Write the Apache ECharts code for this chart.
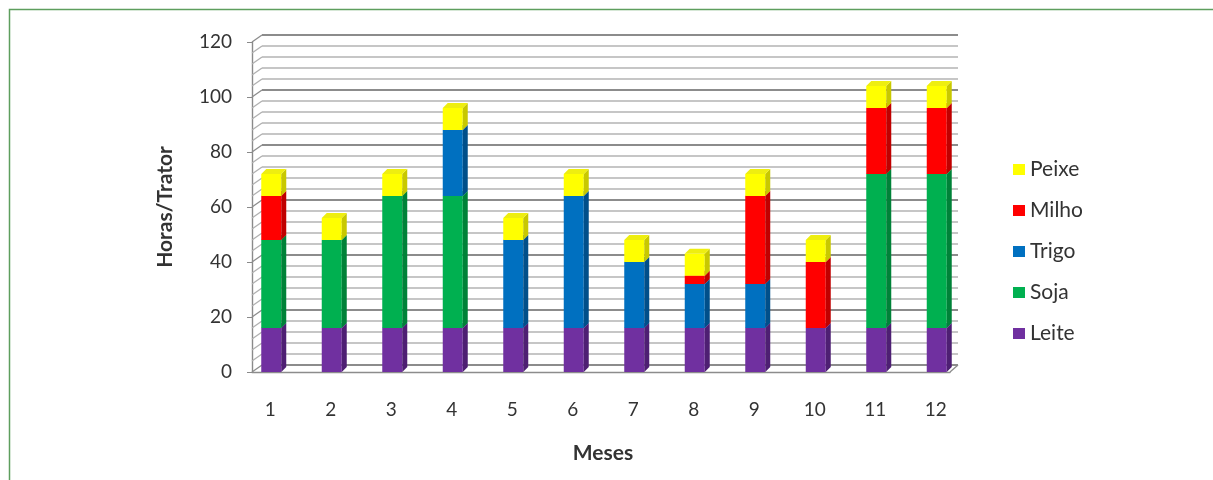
<!DOCTYPE html>
<html>
<head>
<meta charset="utf-8">
<script src="https://cdn.jsdelivr.net/npm/echarts@6/dist/echarts.min.js"></script>
<style>
  html, body { margin: 0; padding: 0; background: #fff; }
  #chart { width: 1213px; height: 480px; }
</style>
</head>
<body>
<div id="chart"></div>
<script>
// Monthly tractor hours, stacked by activity
const months = ['1', '2', '3', '4', '5', '6', '7', '8', '9', '10', '11', '12'];
const leite = [16, 16, 16, 16, 16, 16, 16, 16, 16, 16, 16, 16];
const soja  = [32, 32, 48, 48, 0, 0, 0, 0, 0, 0, 56, 56];
const trigo = [0, 0, 0, 24, 32, 48, 24, 16, 16, 0, 0, 0];
const milho = [16, 0, 0, 0, 0, 0, 0, 3, 32, 24, 24, 24];
const peixe = [8, 8, 8, 8, 8, 8, 8, 8, 8, 8, 8, 8];
const yTickLabels = ['0', '20', '40', '60', '80', '100', '120'];
const legendOrder = ['Peixe', 'Milho', 'Trigo', 'Soja', 'Leite'];

const FONT = 'Lato, "Open Sans", sans-serif';
const TEXT = '#333333';
const DEPTH_X = 10, DEPTH_Y = -7;   // offset of the back wall
const BAR_W = 20, BAR_DX = 5, BAR_DY = -5;

// stacking order, bottom to top
const layers = [
  { name: 'Leite', values: leite, front: '#7030a0', side: '#4e1f73', top: '#7f3fb0' },
  { name: 'Soja',  values: soja,  front: '#00b050', side: '#008238', top: '#12c060' },
  { name: 'Trigo', values: trigo, front: '#0070c0', side: '#004f8a', top: '#1a80cc' },
  { name: 'Milho', values: milho, front: '#ff0000', side: '#c00000', top: '#ff2a2a' },
  { name: 'Peixe', values: peixe, front: '#ffff00', side: '#c8c800', top: '#eeee10' }
];

// running base for each month
const running = months.map(() => 0);
const barSeries = layers.map(layer => {
  const data = layer.values.map((v, i) => {
    const base = running[i];
    running[i] += v;
    return [i, base, base + v];
  });
  return {
    name: layer.name,
    type: 'custom',
    xAxisIndex: 0,
    yAxisIndex: 0,
    itemStyle: { color: layer.front },
    encode: { x: 0, y: [1, 2] },
    data: data,
    renderItem: function (params, api) {
      const base = api.value(1), topV = api.value(2);
      if (topV <= base) return null;
      const p0 = api.coord([api.value(0), base]);
      const p1 = api.coord([api.value(0), topV]);
      const l = p0[0] - BAR_W / 2 + 1, r = l + BAR_W;
      const yb = p0[1], yt = p1[1];
      return {
        type: 'group',
        children: [
          { type: 'rect', shape: { x: l, y: yt, width: BAR_W, height: yb - yt },
            style: { fill: layer.front } },
          { type: 'polygon',
            shape: { points: [[r, yb], [r + BAR_DX, yb + BAR_DY], [r + BAR_DX, yt + BAR_DY], [r, yt]] },
            style: { fill: layer.side } },
          { type: 'polygon',
            shape: { points: [[l, yt], [l + BAR_DX, yt + BAR_DY], [r + BAR_DX, yt + BAR_DY], [r, yt]] },
            style: { fill: layer.top } }
        ]
      };
    }
  };
});

// side-wall connectors between the front axis and the back wall
const wallTicks = [];
for (let v = 0; v <= 120; v += 4) wallTicks.push(v);
const wallSeries = {
  type: 'custom',
  xAxisIndex: 1,
  yAxisIndex: 1,
  silent: true,
  z: 1,
  data: wallTicks.map(v => [0, v]),
  encode: { y: 1 },
  renderItem: function (params, api) {
    const cs = params.coordSys;
    const v = api.value(1);
    const y = api.coord([0, v])[1];
    const color = v % 20 === 0 ? '#8c8c8c' : '#b0b0b0';
    const children = [{
      type: 'line',
      shape: { x1: cs.x, y1: y, x2: cs.x + DEPTH_X, y2: y + DEPTH_Y },
      style: { stroke: color, lineWidth: 1.3 }
    }];
    if (v === 0) {
      children.push({
        type: 'line',
        shape: { x1: cs.x + cs.width, y1: y, x2: cs.x + cs.width + DEPTH_X - 2, y2: y + DEPTH_Y },
        style: { stroke: '#8c8c8c', lineWidth: 1.3 }
      });
    }
    return { type: 'group', children: children };
  }
};

const chart = echarts.init(document.getElementById('chart'), null, { renderer: 'canvas' });
chart.setOption({
  animation: false,
  backgroundColor: '#ffffff',
  textStyle: { fontFamily: FONT },
  graphic: [{
    type: 'rect',
    shape: { x: 9.5, y: 9.5, width: 1300, height: 600 },
    style: { fill: null, stroke: '#5e9e5e', lineWidth: 1.5 },
    silent: true
  }],
  legend: {
    orient: 'vertical',
    left: 1008,
    top: 154,
    data: legendOrder,
    itemWidth: 12,
    itemHeight: 11,
    itemGap: 20,
    itemTextGap: 6,
    icon: 'rect',
    selectedMode: false,
    textStyle: { fontFamily: FONT, fontSize: 21, color: TEXT }
  },
  grid: [
    { left: 240, top: 42, width: 726, height: 330 },   // bars
    { left: 252, top: 42, width: 698, height: 330 },   // front axis and floor
    { left: 262, top: 35, width: 696, height: 330 }    // back wall
  ],
  xAxis: [
    {
      type: 'category', gridIndex: 0, data: months,
      axisLine: { show: false }, axisTick: { show: false },
      axisLabel: { fontFamily: FONT, fontSize: 19, color: TEXT, margin: 28 },
      name: 'Meses', nameLocation: 'middle', nameGap: 71,
      nameTextStyle: { fontFamily: FONT, fontSize: 21, fontWeight: 'bold', color: TEXT }
    },
    {
      type: 'category', gridIndex: 1, data: months,
      axisLine: { show: true, lineStyle: { color: '#8c8c8c', width: 1.4 } },
      axisTick: { show: false }, axisLabel: { show: false }
    },
    {
      type: 'category', gridIndex: 2, data: months, show: false
    }
  ],
  yAxis: [
    { type: 'value', gridIndex: 0, min: 0, max: 120, show: false },
    {
      type: 'value', gridIndex: 1, min: 0, max: 120, interval: 20,
      axisLine: { show: true, lineStyle: { color: '#8a8a8a', width: 1.4 } },
      axisTick: { show: true, length: 5, lineStyle: { color: '#8a8a8a' } },
      splitLine: { show: false },
      axisLabel: {
        fontFamily: FONT, fontSize: 19, color: TEXT, margin: 20,
        formatter: v => yTickLabels[Math.round(v / 20)]
      },
      name: 'Horas/Trator', nameLocation: 'middle', nameGap: 76,
      nameTextStyle: { fontFamily: FONT, fontSize: 21, fontWeight: 'bold', color: TEXT }
    },
    {
      type: 'value', gridIndex: 2, min: 0, max: 120, interval: 20,
      axisLine: { show: false }, axisTick: { show: false }, axisLabel: { show: false },
      splitLine: { show: true, lineStyle: { color: '#8c8c8c', width: 2 } },
      minorTick: { show: false, splitNumber: 5 },
      minorSplitLine: { show: true, lineStyle: { color: '#b4b4b4', width: 1.5 } }
    }
  ],
  series: [wallSeries].concat(barSeries)
});
</script>
</body>
</html>
